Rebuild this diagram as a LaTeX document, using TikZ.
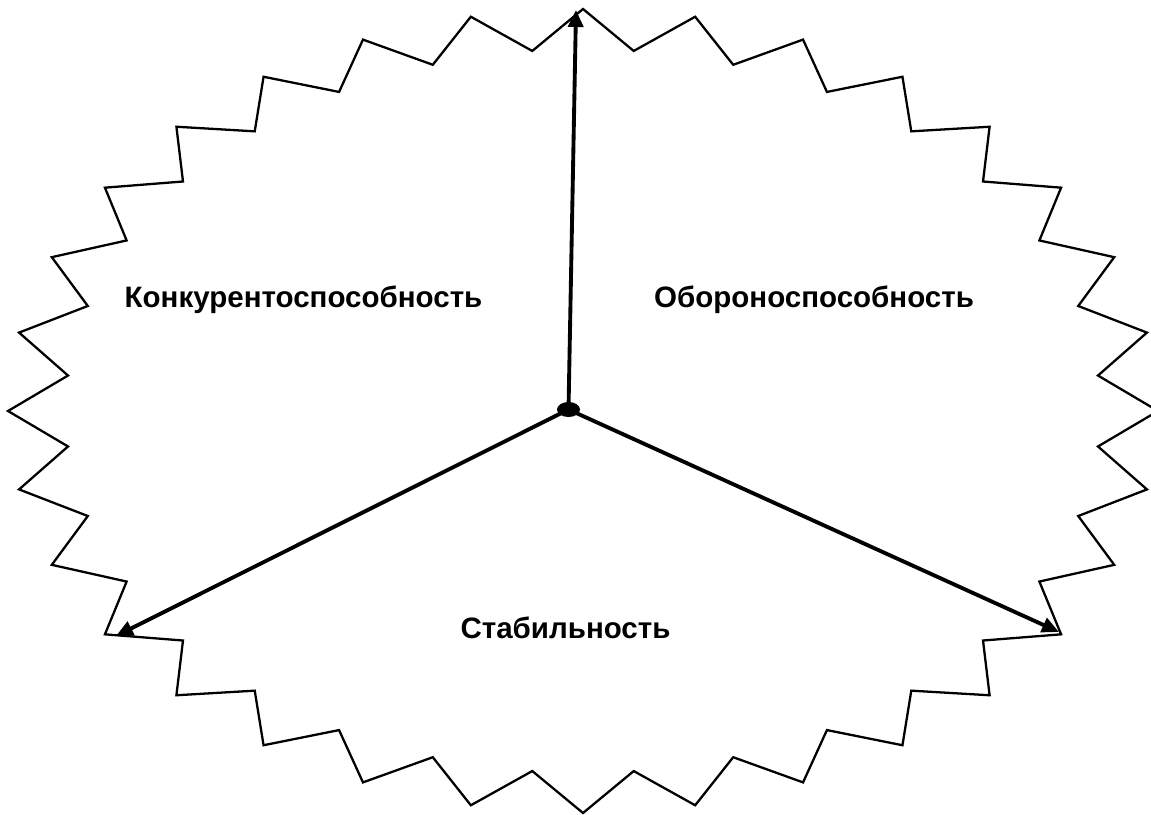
\documentclass[tikz,border=0pt]{standalone}
\usepackage{fontspec}
\setmainfont{Liberation Sans}
\usetikzlibrary{arrows.meta,shapes.geometric}
\tikzset{
  starline/.style={line width=1.3pt, line join=miter},
  axis/.style={line width=2.2pt, -{Triangle[length=0.34cm, width=0.3cm]}},
  lbl/.style={font=\bfseries\fontsize{16.8}{20}\selectfont, anchor=base, inner sep=0pt},
  hub/.style={ellipse, fill=black, minimum width=0.46cm, minimum height=0.3cm, inner sep=0pt}
}
\begin{document}
\begin{tikzpicture}[x=0.02cm, y=-0.02cm]
\useasboundingbox (0,0) rectangle (1151,814);
\clip (0,0) rectangle (1151,814);
\fill[white] (0,0) rectangle (1151,814);
% 32-point star
\draw[starline] (583,9) \foreach \k in {1,...,63} {
  -- ({583+575*(1-0.1*mod(\k,2))*cos(90+\k*5.625)}, {411-402*(1-0.1*mod(\k,2))*sin(90+\k*5.625)})
} -- cycle;
% hub and arrows
\node[hub] (c) at (568.5,409.5) {};
\coordinate (top) at (576,10);
\coordinate (left) at (116,636);
\coordinate (right) at (1059,632);
\draw[axis] (c.center) -- (top);
\draw[axis] (c.center) -- (left);
\draw[axis] (c.center) -- (right);
% labels
\node[lbl] (k) at (303.5,307) {Конкурентоспособность};
\node[lbl] (o) at (814,307) {Обороноспособность};
\node[lbl] (s) at (565.5,638) {Стабильность};
\end{tikzpicture}
\end{document}
